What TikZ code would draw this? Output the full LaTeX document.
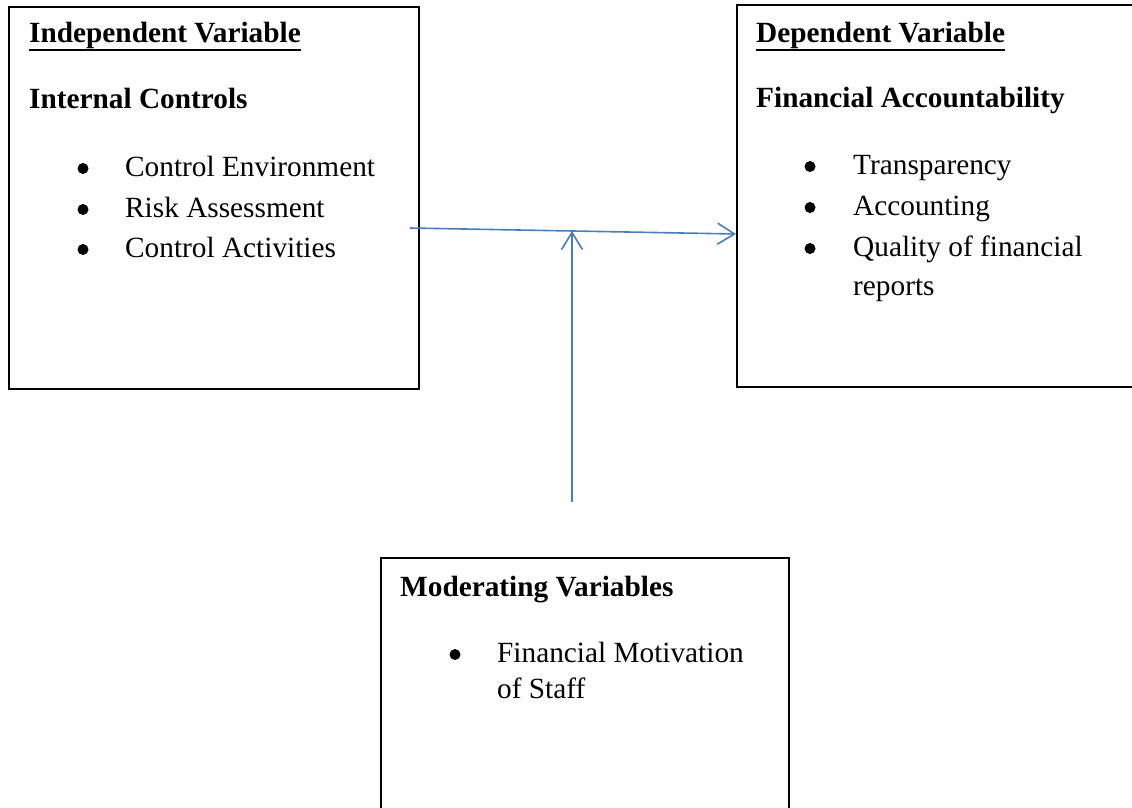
\documentclass[tikz,border=0pt]{standalone}
\usepackage{fontspec}
\setmainfont{Liberation Serif}
\usetikzlibrary{arrows.meta}
\definecolor{linkblue}{HTML}{4A7EBB}

\begin{document}
\begin{tikzpicture}[x=1pt,y=-1pt,
  box/.style={draw,line width=1.5pt,minimum height=382pt,anchor=north west,
              inner sep=0pt},
  txt/.style={anchor=base west,inner sep=0pt,font=\fontsize{29.3}{35}\selectfont},
  head/.style={txt,font=\fontsize{29.3}{35}\selectfont\bfseries},
  dot/.style={circle,fill,inner sep=0pt,minimum size=11pt,yshift=7.5pt},
  uline/.style={line width=1.8pt},
  link/.style={-{Straight Barb[length=17pt,width=21pt]},line width=1.6pt,
               draw=linkblue}
]
  \useasboundingbox (0,0) rectangle (1132,807);
  \clip (0,0) rectangle (1132,807);
  \node[box,minimum width=410pt] (indep) at (8,6) {};
  \node[box,minimum width=404pt] (dep) at (736,4) {};
  \node[box,minimum width=408pt,minimum height=300pt] (moder) at (380,557) {};
  \node[head] (indephead) at (29,42) {Independent Variable};
  \node[head] (internal) at (29,108) {Internal Controls};
  \node[dot] (dotenv) at (83,176) {};
  \node[txt] (ctrlenv) at (125,176) {Control Environment};
  \node[dot] (dotrisk) at (83,217) {};
  \node[txt] (risk) at (125,217) {Risk Assessment};
  \node[dot] (dotact) at (83,257) {};
  \node[txt] (ctrlact) at (125,257) {Control Activities};
  \node[head] (dephead) at (756,42) {Dependent Variable};
  \node[head] (finacc) at (756,107) {Financial Accountability};
  \node[dot] (dottrans) at (810,174) {};
  \node[txt] (transp) at (853,174) {Transparency};
  \node[dot] (dotacc) at (810,215) {};
  \node[txt] (accounting) at (853,215) {Accounting};
  \node[dot] (dotqual) at (810,256) {};
  \node[txt] (quality) at (853,256) {Quality of financial};
  \node[txt] (reports) at (853,295) {reports};
  \node[head] (modhead) at (400,596) {Moderating Variables};
  \node[dot] (dotmot) at (455,662) {};
  \node[txt] (motiv) at (497,662) {Financial Motivation};
  \node[txt] (staff) at (497,698) {of Staff};
  \draw[uline] ([yshift=-1.5pt]indephead.south west)
    -- ([yshift=-1.5pt]indephead.south east);
  \draw[uline] ([yshift=-1.5pt]dephead.south west)
    -- ([yshift=-1.5pt]dephead.south east);
  \coordinate (hstart) at (410,228);
  \coordinate (hend) at (736,234);
  \coordinate (vstart) at (572,502);
  \path (hstart) -- (hend) coordinate[pos=0.497] (hmeet);
  \draw[link] (hstart) -- (hend);
  \draw[link] (vstart) -- (vstart |- hmeet);
\end{tikzpicture}
\end{document}
